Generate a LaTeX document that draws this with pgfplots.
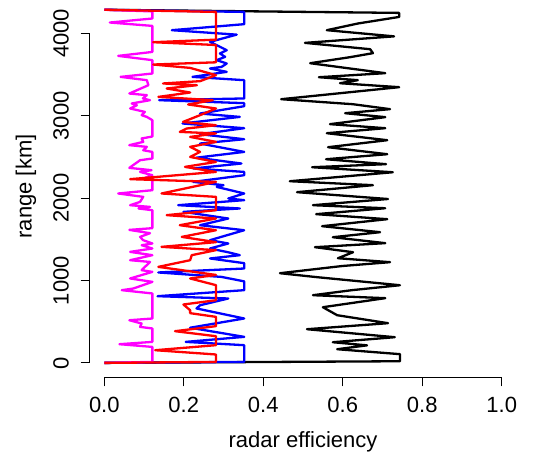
\documentclass[border=0pt]{standalone}
\usepackage{fontspec}
\setmainfont{Liberation Sans}
\usepackage{pgfplots}
\pgfplotsset{compat=1.18}

\definecolor{Rmagenta}{RGB}{255,0,255}
\definecolor{Rblue}{RGB}{0,0,255}
\definecolor{Rred}{RGB}{255,0,0}
\newcommand{\lblfont}{\fontsize{22}{26}\selectfont}

\begin{document}
\begin{tikzpicture}
\begin{axis}[
    name=ax,
    scale only axis,
    width=426.8pt, height=381.7pt,
    xmin=-0.037, xmax=1.037,
    ymin=-175, ymax=4460,
    clip=false,
    axis line style={draw=none},
    tick align=outside,
    xtick pos=left, ytick pos=left,
    major tick length=9pt,
    tick style={black, line width=0.8pt},
    xtick={0,0.2,0.4,0.6,0.8,1.0},
    ytick={0,1000,2000,3000,4000},
    /pgf/number format/assume math mode=true,
    /pgf/number format/1000 sep={},
    xticklabel style={/pgf/number format/fixed, /pgf/number format/fixed zerofill,
        /pgf/number format/precision=1, font=\lblfont, anchor=base, yshift=-26pt},
    yticklabel style={font=\lblfont, xshift=-12pt, rotate=90, anchor=base},
    xlabel={radar efficiency},
    ylabel={range [km]},
    xlabel style={font=\lblfont, at={(axis description cs:0.5,-0.183)}, anchor=base},
    ylabel style={font=\lblfont, at={(axis description cs:-0.136,0.5)}, anchor=base, rotate=0},
    every axis plot/.append style={line width=2.3pt, line join=round},
]
% black
\addplot[black] coordinates {
(0,0) (0.744,20) (0.744,106) (0.586,166) (0.661,213) (0.575,251) (0.731,312)
(0.510,409) (0.714,482) (0.586,579) (0.550,676) (0.707,786) (0.525,822)
(0.623,883) (0.744,943) (0.535,1041) (0.442,1089) (0.598,1176) (0.719,1223)
(0.588,1271) (0.626,1344) (0.530,1405) (0.707,1454) (0.575,1526) (0.694,1587)
(0.548,1660) (0.712,1745) (0.533,1806) (0.707,1878) (0.525,1915) (0.714,1990)
(0.485,2073) (0.676,2158) (0.467,2206) (0.726,2315) (0.523,2376) (0.709,2413)
(0.558,2473) (0.712,2534) (0.563,2619) (0.712,2704) (0.560,2789) (0.707,2850)
(0.568,2899) (0.707,2984) (0.606,3032) (0.719,3081) (0.626,3141) (0.445,3202)
(0.543,3250) (0.742,3348) (0.593,3396) (0.638,3433) (0.540,3469) (0.707,3518)
(0.518,3639) (0.618,3712) (0.676,3761) (0.669,3809) (0.505,3886) (0.729,3965)
(0.560,4040) (0.638,4121) (0.742,4201) (0.742,4250) (0,4288)
};
% blue
\addplot[Rblue] coordinates {
(0,0) (0.352,12) (0.352,215) (0.205,255) (0.352,316) (0.216,427) (0.352,539)
(0.232,661) (0.241,700) (0.312,782) (0.134,810) (0.352,883) (0.352,990)
(0.295,1044) (0.136,1098) (0.352,1146) (0.352,1211) (0.266,1268) (0.341,1308)
(0.310,1345) (0.266,1389) (0.312,1450) (0.266,1490) (0.300,1538) (0.352,1611)
(0.241,1672) (0.312,1753) (0.199,1834) (0.341,1875) (0.186,1915) (0.352,1976)
(0.312,1996) (0.352,2057) (0.283,2137) (0.300,2158) (0.224,2198) (0.352,2279)
(0.352,2319) (0.224,2361) (0.345,2421) (0.232,2492) (0.352,2562) (0.241,2664)
(0.352,2716) (0.241,2777) (0.352,2850) (0.197,2907) (0.341,2987) (0.241,3028)
(0.352,3117) (0.352,3154) (0.138,3190) (0.352,3211) (0.352,3433) (0.222,3473)
(0.308,3534) (0.266,3575) (0.295,3594) (0.308,3635) (0.283,3676) (0.304,3716)
(0.291,3757) (0.308,3797) (0.283,3858) (0.266,3898) (0.333,3986) (0.170,4040)
(0.352,4113) (0.352,4262) (0,4288)
};
% magenta
\addplot[Rmagenta] coordinates {
(0,0) (0.121,12) (0.121,194) (0.038,227) (0.121,255) (0.121,418) (0.090,437)
(0.094,478) (0.063,518) (0.121,539) (0.121,843) (0.044,883) (0.073,903)
(0.121,984) (0.065,1025) (0.121,1105) (0.094,1126) (0.115,1226) (0.065,1247)
(0.121,1308) (0.065,1348) (0.121,1389) (0.094,1429) (0.121,1450) (0.098,1490)
(0.090,1530) (0.115,1575) (0.063,1615) (0.121,1636) (0.121,1854) (0.086,1875)
(0.115,1894) (0.065,1915) (0.090,1955) (0.098,2016) (0.035,2057) (0.121,2097)
(0.121,2218) (0.098,2239) (0.121,2279) (0.090,2319) (0.119,2340) (0.063,2368)
(0.090,2461) (0.121,2482) (0.121,2562) (0.098,2582) (0.107,2623) (0.063,2644)
(0.098,2684) (0.094,2725) (0.121,2749) (0.121,2947) (0.107,2987) (0.094,3008)
(0.102,3048) (0.065,3089) (0.082,3129) (0.069,3150) (0.115,3190) (0.097,3211)
(0.107,3251) (0.063,3271) (0.111,3372) (0.107,3433) (0.041,3473) (0.121,3514)
(0.121,3676) (0.035,3728) (0.121,3776) (0.121,4092) (0.014,4133) (0.121,4182)
(0.121,4268) (0,4288)
};
% red
\addplot[Rred] coordinates {
(0,0) (0.281,12) (0.281,102) (0.128,154) (0.281,215) (0.281,324) (0.178,385)
(0.281,446) (0.281,559) (0.216,604) (0.216,640) (0.199,709) (0.281,761)
(0.281,944) (0.216,1025) (0.281,1068) (0.136,1166) (0.216,1247) (0.220,1308)
(0.281,1369) (0.144,1409) (0.281,1466) (0.195,1530) (0.281,1611) (0.190,1672)
(0.281,1753) (0.157,1794) (0.281,1854) (0.281,2016) (0.144,2057) (0.281,2198)
(0.065,2231) (0.281,2319) (0.203,2380) (0.281,2440) (0.216,2501) (0.241,2562)
(0.216,2623) (0.281,2684) (0.216,2744) (0.281,2786) (0.190,2805) (0.207,2846)
(0.281,2886) (0.198,2926) (0.241,3008) (0.281,3089) (0.211,3138) (0.273,3190)
(0.136,3230) (0.216,3283) (0.157,3332) (0.233,3372) (0.148,3393) (0.241,3421)
(0.281,3494) (0.216,3582) (0.123,3623) (0.281,3650) (0.281,3860) (0.123,3894)
(0.281,3925) (0.281,4262) (0,4288)
};
% R-style axis lines, from first to last tick
\draw[line width=0.8pt] (axis cs:0,-175) -- (axis cs:1,-175);
\draw[line width=0.8pt] (axis cs:-0.037,0) -- (axis cs:-0.037,4000);
\end{axis}
\pgfresetboundingbox
\path ([shift={(-89.6pt,-80.7pt)}]ax.south west) rectangle ([shift={(443.4pt,377.3pt)}]ax.south west);
\end{tikzpicture}
\end{document}
